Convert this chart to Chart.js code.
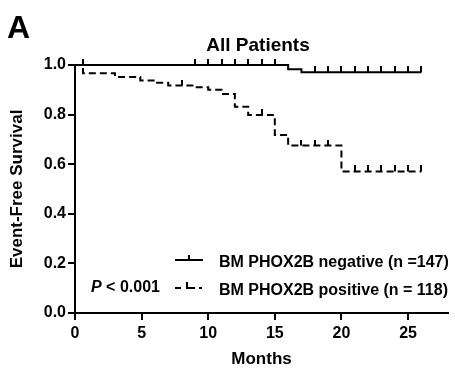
<!DOCTYPE html>
<html>
<head>
<meta charset="utf-8">
<script src="https://cdn.jsdelivr.net/npm/chart.js@4/dist/chart.umd.min.js"></script>
<style>
  html, body { margin: 0; padding: 0; background: #fff; }
  #wrap { width: 455px; height: 370px; position: relative; }
</style>
</head>
<body>
<div id="wrap"><canvas id="km"></canvas></div>
<script>
/* global Chart */

// Kaplan-Meier steps: time (months) and survival after each event
const negTimes = [0, 16.0, 17.0, 26];
const negSurv  = [1.0, 0.983, 0.971, 0.971];
const negCensored = [0.6, 9, 10, 11, 12, 13, 14, 15, 18, 19, 20, 21, 22, 23, 24, 25, 26];

const posTimes = [0, 0.6, 3.0, 4.9, 6.0, 7.0, 9.0, 10.0, 11.0, 12.0, 13.0, 15.0, 16.0, 20.0, 26];
const posSurv  = [1.0, 0.967, 0.952, 0.938, 0.928, 0.917, 0.910, 0.900, 0.883, 0.832, 0.798, 0.718, 0.675, 0.571, 0.571];
const posCensored = [8, 14, 17, 18, 19, 21, 22, 23, 24, 25, 26];

const xTickValues = [0, 5, 10, 15, 20, 25];
const yTickValues = [0, 0.2, 0.4, 0.6, 0.8, 1.0];

const negLabel = 'BM PHOX2B negative (n =147)';
const posLabel = 'BM PHOX2B positive (n = 118)';

const FONT = "'Liberation Sans', Arial, sans-serif";

function levelAt(times, surv, t) {
  let v = surv[0];
  for (let i = 0; i < times.length; i++) {
    if (times[i] <= t) v = surv[i];
  }
  return v;
}

function steps(times, surv) {
  return times.map((t, i) => ({ x: t, y: surv[i] }));
}

function marks(times, surv, censored) {
  return censored.map(t => ({ x: t, y: levelAt(times, surv, t) }));
}

// small upward tick used for censored observations
function censorTick() {
  const c = document.createElement('canvas');
  c.width = 2; c.height = 12;
  const g = c.getContext('2d');
  g.fillStyle = '#000';
  g.fillRect(0, 0, 2, 6);
  return c;
}
const tick = censorTick();

const overlay = {
  id: 'overlay',
  afterDraw(chart) {
    const ctx = chart.ctx;
    ctx.save();
    ctx.fillStyle = '#000';
    ctx.strokeStyle = '#000';

    ctx.font = 'bold 32px ' + FONT;
    ctx.textBaseline = 'alphabetic';
    ctx.textAlign = 'left';
    ctx.fillText('A', 7, 38);

    ctx.font = 'bold 19px ' + FONT;
    ctx.textAlign = 'center';
    ctx.fillText('All Patients', 258, 51);

    // legend
    ctx.lineWidth = 2;
    ctx.beginPath();
    ctx.moveTo(175, 260); ctx.lineTo(203, 260);
    ctx.moveTo(189, 260); ctx.lineTo(189, 255);
    ctx.stroke();

    ctx.beginPath();
    ctx.moveTo(175, 288); ctx.lineTo(181, 288);
    ctx.moveTo(186, 288); ctx.lineTo(195, 288);
    ctx.moveTo(187, 288); ctx.lineTo(187, 282);
    ctx.moveTo(199, 288); ctx.lineTo(202, 288);
    ctx.stroke();

    ctx.font = 'bold 16px ' + FONT;
    ctx.textAlign = 'left';
    ctx.textBaseline = 'middle';
    ctx.fillText(negLabel, 219, 263);
    ctx.fillText(posLabel, 219, 291);

    ctx.font = 'italic bold 16px ' + FONT;
    ctx.fillText('P', 91, 288);
    const pw = ctx.measureText('P').width;
    ctx.font = 'bold 16px ' + FONT;
    ctx.fillText(' < 0.001', 91 + pw, 288);
    ctx.restore();
  }
};

new Chart(document.getElementById('km'), {
  type: 'scatter',
  data: {
    datasets: [
      {
        data: steps(negTimes, negSurv),
        showLine: true,
        stepped: 'before',
        borderColor: '#000',
        borderWidth: 2,
        pointRadius: 0,
        clip: false,
      },
      {
        data: steps(posTimes, posSurv),
        showLine: true,
        stepped: 'before',
        borderColor: '#000',
        borderWidth: 2,
        borderDash: [7, 4],
        pointRadius: 0,
        clip: false,
      },
      {
        data: marks(negTimes, negSurv, negCensored),
        pointStyle: tick,
        pointRadius: 6,
        clip: false,
      },
      {
        data: marks(posTimes, posSurv, posCensored),
        pointStyle: tick,
        pointRadius: 6,
        clip: false,
      },
    ],
  },
  plugins: [overlay],
  options: {
    responsive: true,
    maintainAspectRatio: false,
    animation: false,
    events: [],
    layout: { padding: { left: 0, top: 65, right: 5, bottom: 0 } },
    plugins: {
      legend: { display: false },
      tooltip: { enabled: false },
    },
    scales: {
      x: {
        type: 'linear',
        min: 0,
        max: 28,
        afterBuildTicks: s => { s.ticks = xTickValues.map(v => ({ value: v })); },
        afterFit: s => { s.height = 57; },
        border: { color: '#000', width: 2 },
        grid: { drawOnChartArea: false, color: '#000', lineWidth: 2, tickLength: 7 },
        ticks: { color: '#000', padding: 4, font: { family: FONT, size: 16, weight: 'bold' } },
        title: {
          display: true,
          text: 'Months',
          color: '#000',
          padding: { top: 0, bottom: 0 },
          font: { family: FONT, size: 17, weight: 'bold' },
        },
      },
      y: {
        min: 0,
        max: 1.0,
        afterBuildTicks: s => { s.ticks = yTickValues.map(v => ({ value: v })); },
        afterFit: s => { s.width = 75; },
        border: { color: '#000', width: 2 },
        grid: { drawOnChartArea: false, color: '#000', lineWidth: 2, tickLength: 7 },
        ticks: {
          color: '#000',
          padding: 2,
          font: { family: FONT, size: 16, weight: 'bold' },
          callback: v => v.toFixed(1),
        },
        title: {
          display: true,
          text: 'Event-Free Survival',
          color: '#000',
          padding: { top: 7, bottom: 0 },
          font: { family: FONT, size: 17, weight: 'bold' },
        },
      },
    },
  },
});
</script>
</body>
</html>
